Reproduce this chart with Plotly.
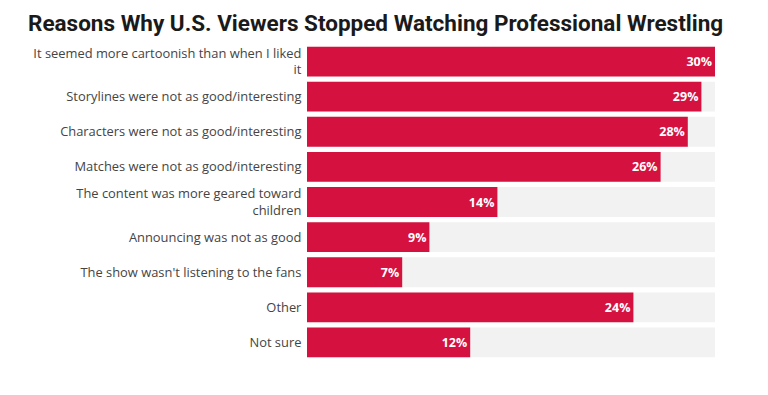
import plotly.graph_objects as go

categories = [
    "It seemed more cartoonish than when I liked<br>it",
    "Storylines were not as good/interesting",
    "Characters were not as good/interesting",
    "Matches were not as good/interesting",
    "The content was more geared toward<br>children",
    "Announcing was not as good",
    "The show wasn't listening to the fans",
    "Other",
    "Not sure",
]
values = [30, 29, 28, 26, 14, 9, 7, 24, 12]
max_value = 30

W, H = 760, 387

fig = go.Figure()
fig.add_trace(go.Bar(
    y=categories, x=[max_value] * len(categories), orientation="h",
    marker=dict(color="#f2f2f2", line=dict(width=0)), width=0.85,
    hoverinfo="skip", showlegend=False,
))
fig.add_trace(go.Bar(
    y=categories, x=values, orientation="h",
    marker=dict(color="#d5123f", line=dict(width=0)), width=0.85,
    texttemplate="%{x}%", textposition="inside", insidetextanchor="end",
    textfont=dict(color="white", size=12.5, family="Open Sans", weight="bold"),
    showlegend=False,
))
fig.update_layout(
    width=W, height=H,
    barmode="overlay",
    paper_bgcolor="white", plot_bgcolor="white",
    margin=dict(l=299, r=53, t=36, b=35),
    title=dict(
        text="<b>Reasons Why U.S. Viewers Stopped Watching Professional Wrestling</b>",
        x=20 / W, xanchor="left", y=1 - 15 / H, yanchor="middle",
        font=dict(family="Roboto", size=22.5, color="#1a1a1a"),
    ),
    xaxis=dict(range=[0, max_value], visible=False, fixedrange=True),
    yaxis=dict(
        autorange="reversed", showgrid=False, zeroline=False, showline=False,
        ticks="outside", ticklen=2, tickcolor="rgba(0,0,0,0)",
        tickfont=dict(family="Open Sans", size=12.9, color="#444"),
    ),
)
fig.write_html("out.html")
